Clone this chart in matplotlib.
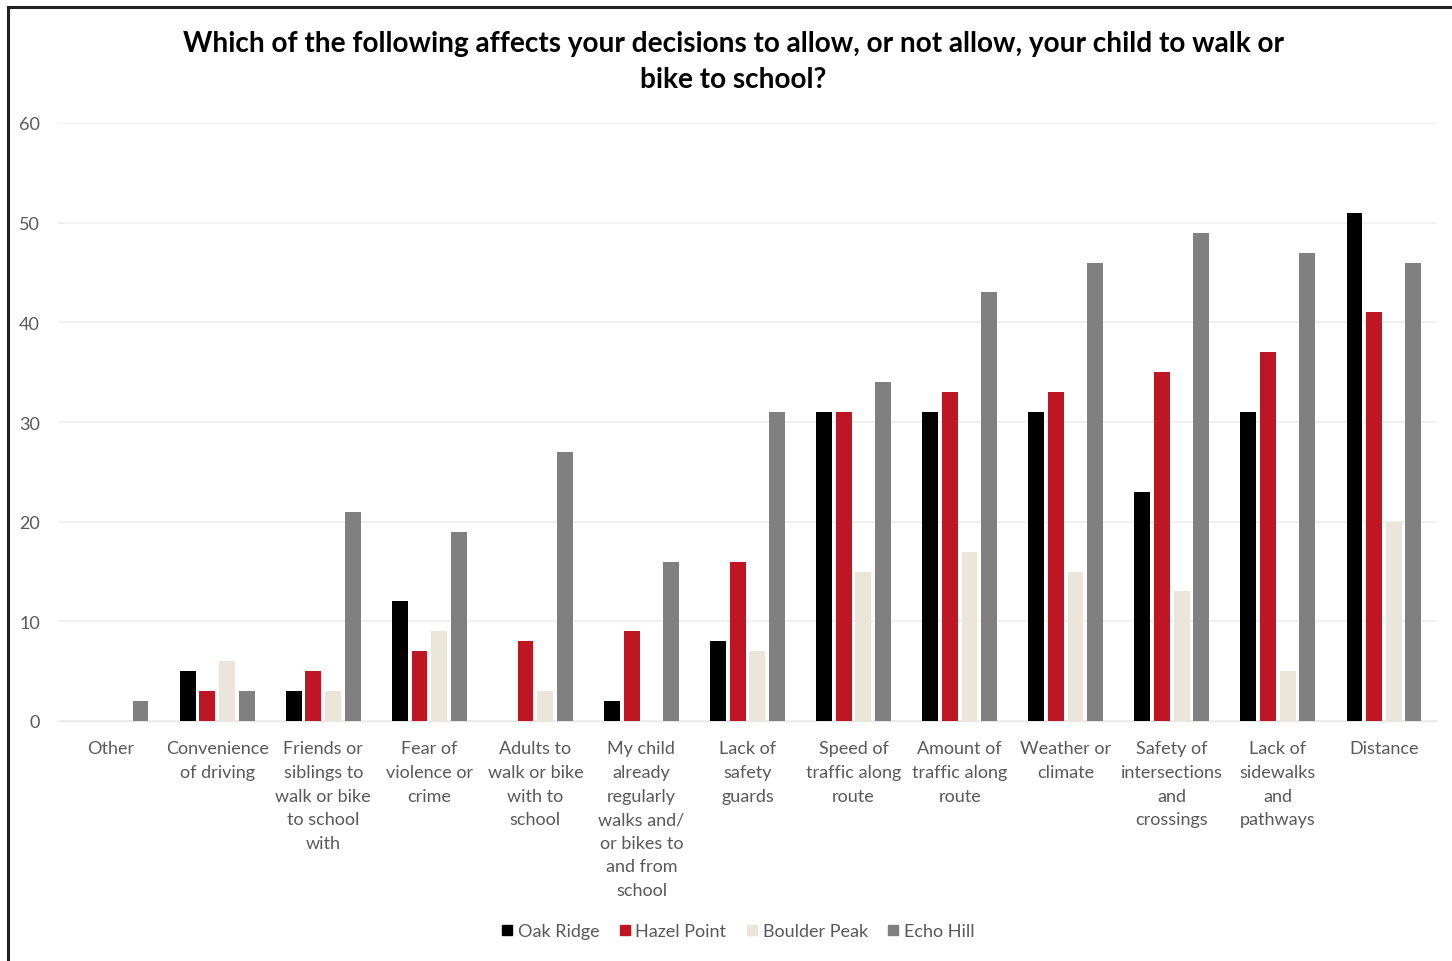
import matplotlib

matplotlib.use("Agg")
import matplotlib.pyplot as plt
import numpy as np
from matplotlib.lines import Line2D

plt.rcParams["font.family"] = ["Lato", "DejaVu Sans"]

categories = [
    "Other",
    "Convenience\nof driving",
    "Friends or\nsiblings to\nwalk or bike\nto school\nwith",
    "Fear of\nviolence or\ncrime",
    "Adults to\nwalk or bike\nwith to\nschool",
    "My child\nalready\nregularly\nwalks and/\nor bikes to\nand from\nschool",
    "Lack of\nsafety\nguards",
    "Speed of\ntraffic along\nroute",
    "Amount of\ntraffic along\nroute",
    "Weather or\nclimate",
    "Safety of\nintersections\nand\ncrossings",
    "Lack of\nsidewalks\nand\npathways",
    "Distance",
]
series_names = ["Oak Ridge", "Hazel Point", "Boulder Peak", "Echo Hill"]
oak_ridge = [0, 5, 3, 12, 0, 2, 8, 31, 31, 31, 23, 31, 51]
hazel_point = [0, 3, 5, 7, 8, 9, 16, 31, 33, 33, 35, 37, 41]
boulder_peak = [0, 6, 3, 9, 3, 0, 7, 15, 17, 15, 13, 5, 20]
echo_hill = [2, 3, 21, 19, 27, 16, 31, 34, 43, 46, 49, 47, 46]
colors = ["#000000", "#be1622", "#ece5da", "#808080"]
yticks = [0, 10, 20, 30, 40, 50, 60]

W, H = 1452, 962
fig = plt.figure(figsize=(W / 100, H / 100), dpi=100)
ax = fig.add_axes([58 / W, 1 - 722 / H, (1437 - 58) / W, (722 - 124) / H])

x = np.arange(len(categories))
step, width = 0.185, 0.15
for i, (vals, col) in enumerate(zip([oak_ridge, hazel_point, boulder_peak, echo_hill], colors)):
    ax.bar(x + (i - 1.5) * step, vals, width, color=col, zorder=3)

ax.set_xlim(-0.5, len(categories) - 0.5)
ax.set_ylim(0, 60)
ax.set_yticks(yticks)
ax.set_xticks(x)
ax.set_xticklabels(categories, fontsize=13, color="#595959", linespacing=1.58)
ax.tick_params(axis="both", length=0, colors="#595959", labelsize=13)
ax.tick_params(axis="x", pad=14)
ax.tick_params(axis="y", pad=13)
ax.grid(axis="y", color="#efefef", lw=1.2, zorder=0)
for s in ["top", "right", "left"]:
    ax.spines[s].set_visible(False)
ax.spines["bottom"].set_color("#e6e6e6")

title_kw = dict(ha="center", va="center", fontsize=20.2, fontweight="bold")
fig.text(0.505, 1 - 44 / H,
         "Which of the following affects your decisions to allow, or not allow, your child to walk or", **title_kw)
fig.text(0.505, 1 - 80 / H, "bike to school?", **title_kw)

handles = [Line2D([], [], marker="s", ls="", color=c, markersize=7) for c in colors]
fig.legend(handles, series_names, loc="center", bbox_to_anchor=(737 / W, 1 - 932 / H), ncol=4,
           frameon=False, fontsize=13, labelcolor="#595959", handlelength=0.8,
           handletextpad=0.2, columnspacing=1.0)

# frame (left and top edges visible in the source)
fig.add_artist(Line2D([8 / W, 8 / W], [0, 1 - 8 / H], color="#222222", lw=2.2))
fig.add_artist(Line2D([8 / W, 1], [1 - 8 / H, 1 - 8 / H], color="#222222", lw=2.2))

fig.savefig("out.png", dpi=100)
